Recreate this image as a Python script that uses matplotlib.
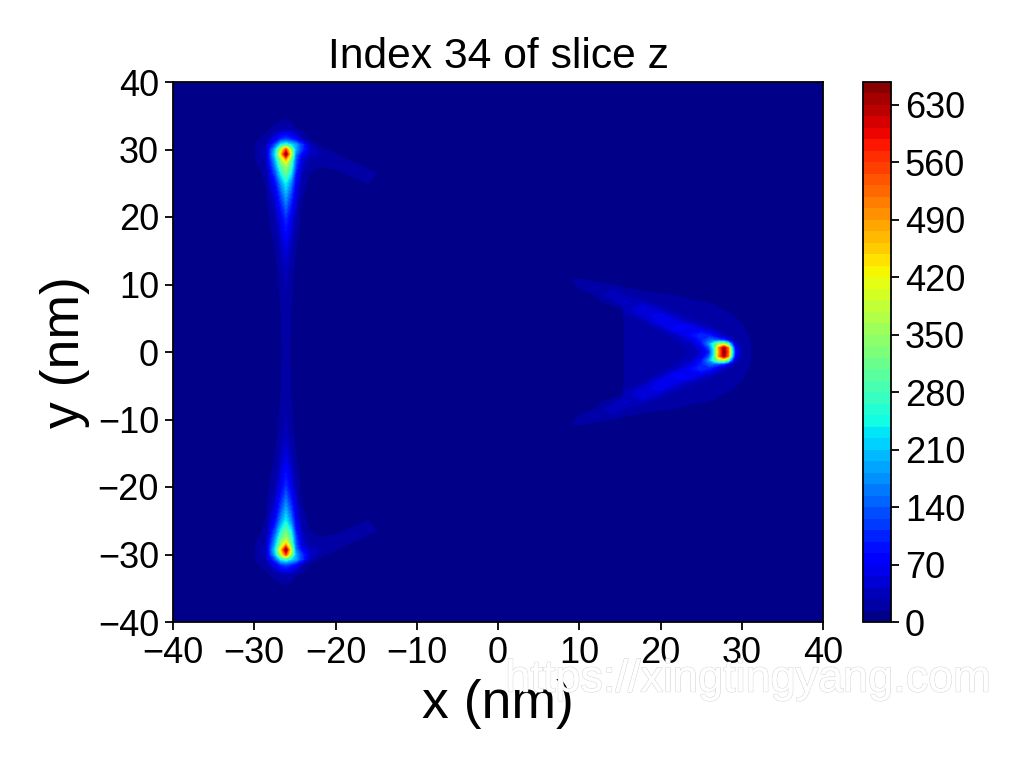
import numpy as np
import matplotlib
matplotlib.use("Agg")
import matplotlib.pyplot as plt
import matplotlib.patheffects as pe

plt.rcParams['font.family'] = ['Liberation Sans', 'DejaVu Sans']

TITLE = "Index 34 of slice z"
XLABEL = "x (nm)"
YLABEL = "y (nm)"
WATERMARK = "https://xingtingyang.com"
AXIS_TICKS = [-40, -30, -20, -10, 0, 10, 20, 30, 40]
CBAR_TICKS = [0, 70, 140, 210, 280, 350, 420, 490, 560, 630]
LEVELS = np.arange(0, 659, 14)

# Left streak: intensity (upper half, y >= 0; the field is mirror-symmetric)
left_x = [-33, -30, -28.5, -27.4, -26.7, -26.1, -25.5, -24.9, -24.1, -23.2, -22, -20, -18, -16, -14, -12, -10]
left_y = [0, 6, 12, 16, 20, 23, 25, 26.5, 27.5, 28.5, 29.3, 30, 30.7, 31.5, 33, 35, 37]
left_z = [
    [0, 0, 2, 6, 12, 20, 12, 6, 2, 0, 0, 0, 0, 0, 0, 0, 0],
    [0, 0, 3, 7, 14, 24, 14, 7, 3, 0, 0, 0, 0, 0, 0, 0, 0],
    [0, 1, 4, 10, 20, 32, 20, 10, 4, 1, 0, 0, 0, 0, 0, 0, 0],
    [0, 2, 6, 15, 36, 60, 36, 15, 6, 2, 0, 0, 0, 0, 0, 0, 0],
    [0, 3, 8, 26, 68, 110, 68, 26, 8, 4, 2, 0, 0, 0, 0, 0, 0],
    [0, 4, 12, 50, 120, 180, 120, 50, 14, 7, 4, 2, 0, 0, 0, 0, 0],
    [0, 5, 15, 80, 175, 235, 170, 70, 20, 10, 7, 5, 3, 14, 8, 0, 0],
    [1, 7, 18, 130, 245, 310, 240, 95, 28, 14, 10, 8, 19, 19, 10, 3, 0],
    [2, 9, 22, 165, 300, 350, 280, 125, 36, 18, 14, 18, 22, 10, 0, 0, 0],
    [3, 11, 30, 200, 360, 460, 320, 140, 50, 26, 20, 24, 10, 2, 0, 0, 0],
    [4, 12, 36, 230, 450, 655, 400, 160, 70, 38, 28, 14, 3, 0, 0, 0, 0],
    [4, 12, 34, 210, 390, 540, 360, 190, 110, 46, 20, 6, 0, 0, 0, 0, 0],
    [3, 11, 28, 130, 240, 270, 230, 190, 110, 34, 11, 2, 0, 0, 0, 0, 0],
    [2, 9, 20, 60, 110, 125, 105, 80, 30, 13, 5, 0, 0, 0, 0, 0, 0],
    [1, 5, 11, 17, 22, 24, 20, 15, 11, 6, 2, 0, 0, 0, 0, 0, 0],
    [0, 2, 5, 7, 9, 10, 9, 6, 3, 1, 0, 0, 0, 0, 0, 0, 0],
    [0, 0, 0, 0, 0, 0, 0, 0, 0, 0, 0, 0, 0, 0, 0, 0, 0],
]

# Right V-shaped spot: intensity (upper half, y >= 0)
right_x = [8, 10, 12, 14, 15.2, 15.6, 18, 20, 22, 24, 25, 26, 26.6, 27.1, 27.8, 28.3, 28.8, 29.2, 30, 31, 32]
right_y = [0, 0.6, 1.2, 1.8, 2.5, 3.5, 4.5, 5.5, 6.5, 7.5, 8.5, 9.5, 10.5, 11.5, 12.5]
right_z = [
    [0, 0, 0, 0, 0, 15, 15, 16, 20, 28, 44, 100, 240, 450, 655, 540, 260, 80, 24, 15, 6],
    [0, 0, 0, 0, 0, 15, 15, 16, 22, 32, 54, 130, 260, 470, 630, 520, 230, 70, 22, 15, 6],
    [0, 0, 0, 0, 0, 15, 15, 18, 24, 40, 78, 180, 270, 340, 370, 280, 120, 44, 20, 15, 5],
    [0, 0, 0, 0, 0, 15, 16, 20, 28, 54, 100, 140, 135, 125, 100, 60, 36, 24, 18, 14, 4],
    [0, 0, 0, 0, 0, 15, 16, 22, 38, 85, 110, 95, 70, 46, 30, 24, 21, 20, 17, 13, 2],
    [0, 0, 0, 0, 0, 16, 20, 32, 80, 66, 46, 32, 26, 23, 21, 20, 19, 18, 16, 9, 0],
    [0, 0, 0, 0, 2, 18, 26, 70, 56, 30, 24, 22, 20, 19, 18, 18, 17, 16, 13, 3, 0],
    [0, 0, 0, 0, 4, 22, 50, 62, 30, 22, 20, 19, 18, 17, 16, 15, 14, 13, 5, 0, 0],
    [0, 0, 0, 6, 15, 34, 58, 30, 22, 19, 17, 16, 15, 14, 13, 12, 9, 4, 0, 0, 0],
    [0, 0, 6, 24, 40, 44, 28, 22, 18, 15, 14, 13, 12, 8, 5, 2, 0, 0, 0, 0, 0],
    [0, 4, 16, 40, 32, 24, 18, 15, 13, 9, 5, 2, 1, 0, 0, 0, 0, 0, 0, 0, 0],
    [2, 14, 30, 24, 16, 14, 9, 5, 2, 0, 0, 0, 0, 0, 0, 0, 0, 0, 0, 0, 0],
    [5, 20, 12, 5, 2, 1, 0, 0, 0, 0, 0, 0, 0, 0, 0, 0, 0, 0, 0, 0, 0],
    [0, 3, 1, 0, 0, 0, 0, 0, 0, 0, 0, 0, 0, 0, 0, 0, 0, 0, 0, 0, 0],
    [0, 0, 0, 0, 0, 0, 0, 0, 0, 0, 0, 0, 0, 0, 0, 0, 0, 0, 0, 0, 0],
]


def mirrored(y, z):
    y = np.asarray(y, float)
    z = np.asarray(z, float)
    return np.concatenate([-y[:0:-1], y]), np.vstack([z[:0:-1], z])


W, H = 1024, 768
fig = plt.figure(figsize=(W / 100, H / 100), dpi=100, facecolor='white')
ax = fig.add_axes([173 / W, 1 - 622 / H, 650 / W, 540 / H])
cax = fig.add_axes([863 / W, 1 - 622 / H, 28 / W, 540 / H])

cmap = plt.get_cmap('jet')

for px, py, pz in ((left_x, left_y, left_z), (right_x, right_y, right_z)):
    yy, zz = mirrored(py, pz)
    cs = ax.contourf(px, yy, zz, levels=LEVELS, cmap=cmap, vmin=0, vmax=LEVELS[-1], extend='neither')
ax.set_facecolor(cs.cmap(cs.norm(LEVELS[0] / 2 + LEVELS[1] / 2)))

ax.set_xlim(-40, 40)
ax.set_ylim(-40, 40)
ax.set_xticks(AXIS_TICKS)
ax.set_yticks(AXIS_TICKS)
ax.tick_params(labelsize=26, width=1.3, length=6, pad=4)
for s in ax.spines.values():
    s.set_linewidth(1.3)

fig.text(498 / W, 1 - 57 / H, TITLE, fontsize=30.7, ha='center', va='center')
fig.text(498 / W, 1 - 704 / H, XLABEL, fontsize=38.5, ha='center', va='center')
fig.text(65 / W, 1 - 352 / H, YLABEL, fontsize=38.5, rotation=90, ha='center', va='center')

cb = fig.colorbar(cs, cax=cax, ticks=CBAR_TICKS)
cb.ax.tick_params(labelsize=26, width=1.3, length=6, pad=4)
cb.outline.set_linewidth(1.3)

fig.text(748 / W, 1 - 680 / H, WATERMARK, fontsize=32.4, ha='center', va='center', color='white',
         path_effects=[pe.withStroke(linewidth=1.0, foreground='#d8d8d8'), pe.Normal()])

fig.savefig('out.png', dpi=100)
